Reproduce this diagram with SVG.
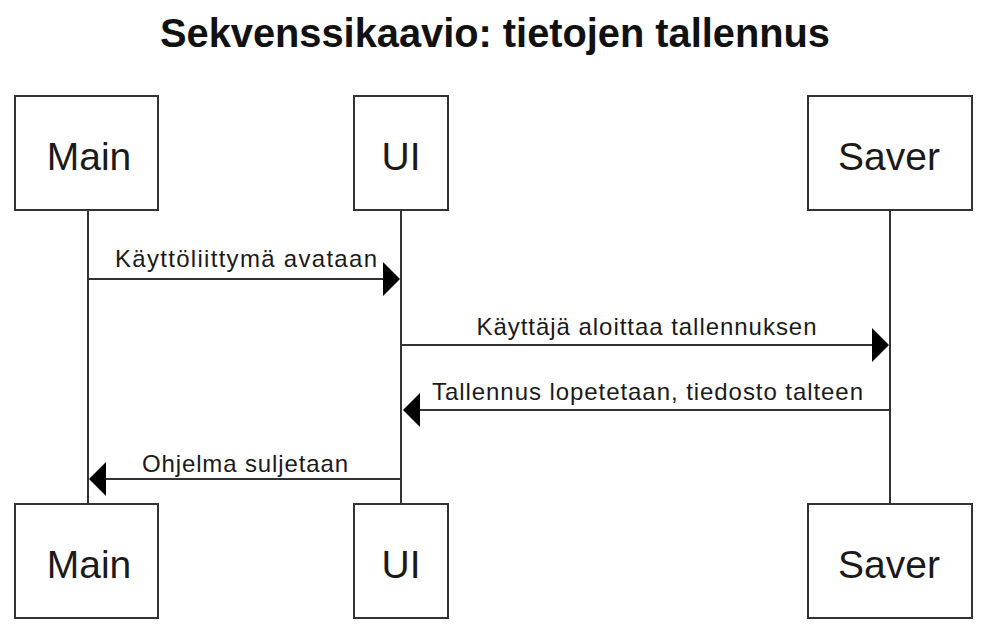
<svg xmlns="http://www.w3.org/2000/svg" width="994" height="630" viewBox="0 0 994 630">
<style>
.box{fill:#fff;stroke:#333;stroke-width:2}
.life{stroke:#333;stroke-width:2;fill:none}
.msg{stroke:#333;stroke-width:2;fill:none;marker-end:url(#head)}
.title{font-family:"Liberation Sans",Arial,sans-serif;font-weight:bold;font-size:40px;fill:#111;text-anchor:middle}
.lbl{font-family:"Liberation Sans",Arial,sans-serif;font-size:39px;fill:#1a1a1a;text-anchor:middle}
.msgl{font-family:"Liberation Sans",Arial,sans-serif;font-size:24px;fill:#1a1a1a;text-anchor:middle}
</style>
<defs>
<marker id="head" markerUnits="userSpaceOnUse" markerWidth="18" markerHeight="34" viewBox="0 0 17 34" refX="0" refY="17" orient="auto">
<path d="M0,0 L17,17 L0,34 z" fill="#000"/>
</marker>
</defs>
<rect width="994" height="630" fill="#fff"/>
<text class="title" x="495" y="47" textLength="670" lengthAdjust="spacingAndGlyphs">Sekvenssikaavio: tietojen tallennus</text>
<g id="connectors">
<line class="life" x1="88" y1="210" x2="88" y2="504"/>
<line class="life" x1="401" y1="210" x2="401" y2="504"/>
<line class="life" x1="890" y1="210" x2="890" y2="504"/>
<g id="m1"><line class="msg" x1="88" y1="279" x2="383" y2="279"/><text class="msgl" x="246" y="267" textLength="262" lengthAdjust="spacing">Käyttöliittymä avataan</text></g>
<g id="m2"><line class="msg" x1="401" y1="345" x2="872" y2="345"/><text class="msgl" x="646.5" y="335" textLength="340" lengthAdjust="spacing">Käyttäjä aloittaa tallennuksen</text></g>
<g id="m3"><line class="msg" x1="890" y1="410" x2="420" y2="410"/><text class="msgl" x="647.5" y="400" textLength="431" lengthAdjust="spacing">Tallennus lopetetaan, tiedosto talteen</text></g>
<g id="m4"><line class="msg" x1="401" y1="479" x2="106" y2="479"/><text class="msgl" x="245" y="472" textLength="206" lengthAdjust="spacing">Ohjelma suljetaan</text></g>
</g>
<g id="main-top"><rect class="box" x="15" y="96" width="143" height="114"/><text class="lbl" x="89" y="170">Main</text></g>
<g id="ui-top"><rect class="box" x="354" y="96" width="94" height="114"/><text class="lbl" x="401" y="170">UI</text></g>
<g id="saver-top"><rect class="box" x="808" y="96" width="164" height="114"/><text class="lbl" x="889" y="170">Saver</text></g>
<g id="main-bottom"><rect class="box" x="15" y="504" width="143" height="114"/><text class="lbl" x="89" y="578">Main</text></g>
<g id="ui-bottom"><rect class="box" x="354" y="504" width="94" height="114"/><text class="lbl" x="401" y="578">UI</text></g>
<g id="saver-bottom"><rect class="box" x="808" y="504" width="164" height="114"/><text class="lbl" x="889" y="578">Saver</text></g>
</svg>
